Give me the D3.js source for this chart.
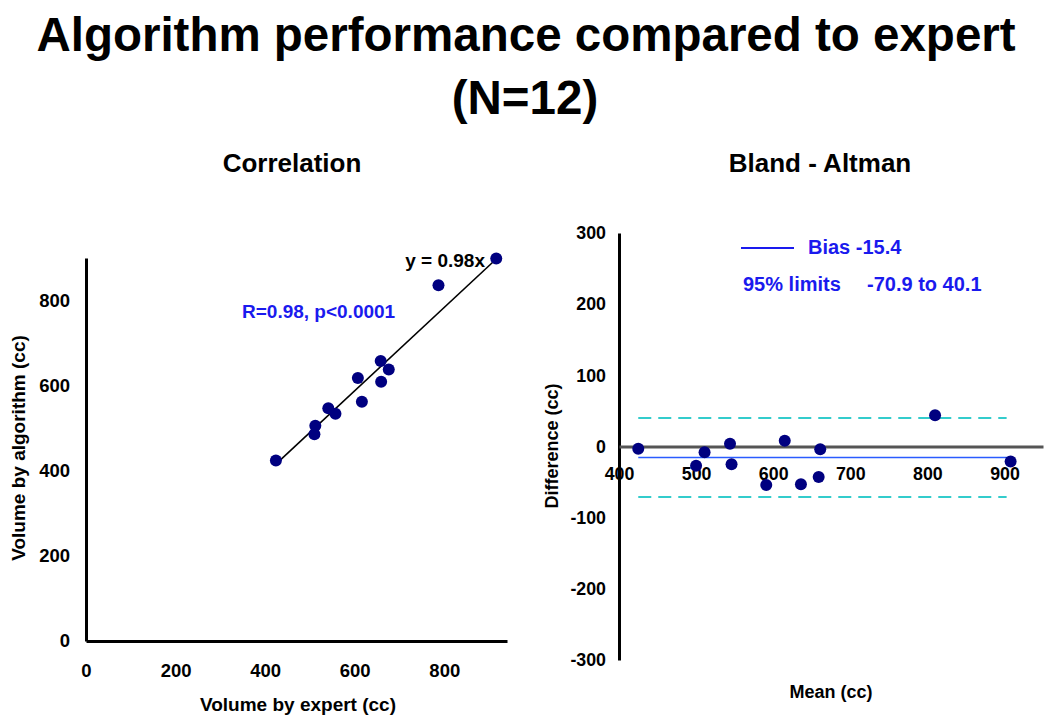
<!DOCTYPE html>
<html>
<head>
<meta charset="utf-8">
<script src="https://cdn.jsdelivr.net/npm/d3@7"></script>
<style>
  html, body { margin: 0; padding: 0; background: #fff; }
  svg text { font-family: Arial, "Liberation Sans", sans-serif; font-weight: bold; }
</style>
</head>
<body>
<svg id="chart" width="1050" height="724"></svg>
<script>
// ---- Data ----
const titleLines = ["Algorithm performance compared to expert", "(N=12)"];
const expertVol    = [424, 512, 510, 541, 557, 607, 616, 658, 659, 676, 787, 916];
const algorithmVol = [424, 506, 486, 547, 534, 618, 562, 658, 609, 638, 836, 899];
const meanVals = [425, 500, 511, 544, 546, 591, 615, 636, 659, 661, 810, 908];
const diffVals = [-3, -27, -8, 4, -25, -54, 8, -53, -43, -4, 44, -21];
const slope = 0.98;
const bias = -15.4;
const limits = [-70.9, 40.1];
const leftTicks = [0, 200, 400, 600, 800];
const rightXTicks = [400, 500, 600, 700, 800, 900];
const rightYTicks = [-300, -200, -100, 0, 100, 200, 300];

const svg = d3.select("#chart");
const navy = "#000080";
const blueText = "#1a1aee";

// ---- Titles ----
svg.append("text").attr("x", 526).attr("y", 51).attr("text-anchor", "middle")
  .attr("font-size", 47.5).text(titleLines[0]);
svg.append("text").attr("x", 525).attr("y", 114).attr("text-anchor", "middle")
  .attr("font-size", 47.5).text(titleLines[1]);

// ================= Left: Correlation =================
const xL = d3.scaleLinear().domain([0, 940]).range([86, 507]);
const yL = d3.scaleLinear().domain([0, 900]).range([641, 258]);

svg.append("text").attr("x", 292).attr("y", 172).attr("text-anchor", "middle")
  .attr("font-size", 26).text("Correlation");

const gxL = svg.append("g").attr("transform", `translate(0,${yL(0)})`)
  .call(d3.axisBottom(xL).tickValues(leftTicks).tickSize(0).tickSizeOuter(0).tickPadding(22.5));
const gyL = svg.append("g").attr("transform", `translate(${xL(0)},0)`)
  .call(d3.axisLeft(yL).tickValues(leftTicks).tickSize(0).tickSizeOuter(0).tickPadding(16));
[gxL, gyL].forEach(g => {
  g.select(".domain").attr("stroke", "#000").attr("stroke-width", 3);
  g.selectAll("text").attr("font-size", 18.5).attr("fill", "#000")
    .attr("font-family", 'Arial, "Liberation Sans", sans-serif').attr("font-weight", "bold");
});

svg.append("text").attr("x", 298).attr("y", 711).attr("text-anchor", "middle")
  .attr("font-size", 19).text("Volume by expert (cc)");
svg.append("text").attr("transform", "translate(25,448) rotate(-90)").attr("text-anchor", "middle")
  .attr("font-size", 19).text("Volume by algorithm (cc)");

// regression line
const xExt = d3.extent(expertVol);
svg.append("line")
  .attr("x1", xL(xExt[0])).attr("y1", yL(slope * xExt[0]))
  .attr("x2", xL(xExt[1])).attr("y2", yL(slope * xExt[1]))
  .attr("stroke", "#000").attr("stroke-width", 1.6);

svg.append("g").selectAll("circle").data(expertVol).join("circle")
  .attr("cx", d => xL(d)).attr("cy", (d, i) => yL(algorithmVol[i]))
  .attr("r", 6).attr("fill", navy);

svg.append("text").attr("x", 485).attr("y", 267).attr("text-anchor", "end")
  .attr("font-size", 19).attr("fill", "#000").text("y = 0.98x");
svg.append("text").attr("x", 242).attr("y", 318)
  .attr("font-size", 19).attr("fill", blueText).text("R=0.98, p<0.0001");

// ================= Right: Bland - Altman =================
const xR = d3.scaleLinear().domain([400, 950]).range([619, 1043]);
const yR = d3.scaleLinear().domain([-300, 300]).range([660, 233]);

svg.append("text").attr("x", 820).attr("y", 172).attr("text-anchor", "middle")
  .attr("font-size", 26).text("Bland - Altman");

const gyR = svg.append("g").attr("transform", `translate(${xR(400)},0)`)
  .call(d3.axisLeft(yR).tickValues(rightYTicks).tickSize(0).tickSizeOuter(0).tickPadding(13)
    .tickFormat(d3.format("d")));
gyR.select(".domain").attr("stroke", "#000").attr("stroke-width", 3);

const gxR = svg.append("g").attr("transform", `translate(0,${yR(0)})`)
  .call(d3.axisBottom(xR).tickValues(rightXTicks).tickSize(0).tickSizeOuter(0).tickPadding(21));
gxR.select(".domain").attr("stroke", "#555").attr("stroke-width", 3);

[gxR, gyR].forEach(g => {
  g.selectAll("text").attr("font-size", 17.8).attr("fill", "#000")
    .attr("font-family", 'Arial, "Liberation Sans", sans-serif').attr("font-weight", "bold");
});
gyR.selectAll("text").text(d => d < 0 ? "-" + Math.abs(d) : d);

svg.append("text").attr("x", 831).attr("y", 698).attr("text-anchor", "middle")
  .attr("font-size", 18).text("Mean (cc)");
svg.append("text").attr("transform", "translate(558,446) rotate(-90)").attr("text-anchor", "middle")
  .attr("font-size", 18).text("Difference (cc)");

const mExt = d3.extent(meanVals);
// limits of agreement
svg.append("g").selectAll("line").data(limits).join("line")
  .attr("x1", xR(mExt[0])).attr("x2", xR(mExt[1]) - 4)
  .attr("y1", d => yR(d)).attr("y2", d => yR(d))
  .attr("stroke", "#33cccc").attr("stroke-width", 2).attr("stroke-dasharray", "13,7");
// bias
svg.append("line")
  .attr("x1", xR(mExt[0])).attr("x2", xR(mExt[1]))
  .attr("y1", yR(bias)).attr("y2", yR(bias))
  .attr("stroke", "#2a5cff").attr("stroke-width", 1.6);

svg.append("g").selectAll("circle").data(meanVals).join("circle")
  .attr("cx", d => xR(d)).attr("cy", (d, i) => yR(diffVals[i]))
  .attr("r", 6).attr("fill", navy);

// legend
svg.append("line").attr("x1", 741).attr("x2", 794).attr("y1", 248).attr("y2", 248)
  .attr("stroke", blueText).attr("stroke-width", 2);
svg.append("text").attr("x", 808).attr("y", 254).attr("font-size", 20)
  .attr("fill", blueText).text("Bias " + bias);
svg.append("text").attr("x", 743).attr("y", 291).attr("font-size", 20)
  .attr("fill", blueText).text("95% limits");
svg.append("text").attr("x", 867).attr("y", 291).attr("font-size", 20)
  .attr("fill", blueText).text(limits[0] + " to " + limits[1]);
</script>
</body>
</html>
